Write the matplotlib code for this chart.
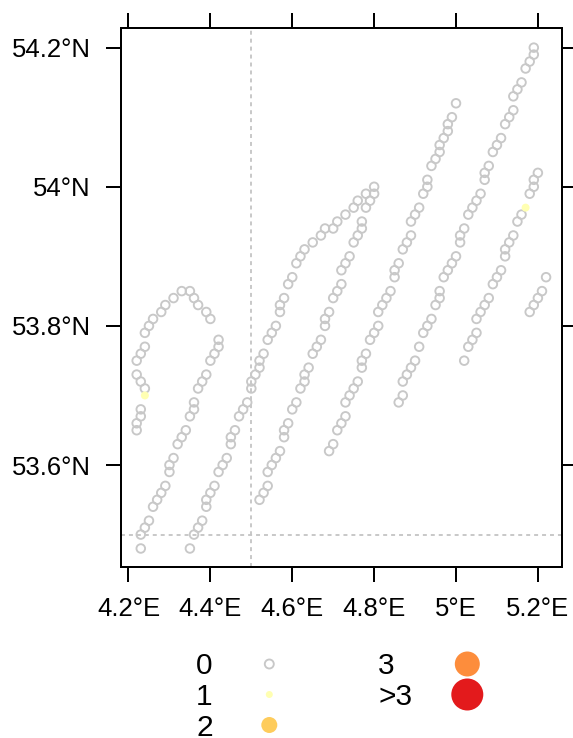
import matplotlib
matplotlib.use("Agg")
import matplotlib.pyplot as plt
from matplotlib.ticker import FixedLocator, MultipleLocator

plt.rcParams['font.family'] = ['Liberation Sans', 'DejaVu Sans']

# survey hauls with zero count, one list pair per track
track_a_lon = [4.22, 4.22, 4.23, 4.23, 4.24, 4.23, 4.22, 4.22, 4.23, 4.24, 4.24, 4.25, 4.26,
               4.28, 4.29, 4.31, 4.33, 4.35, 4.36, 4.37, 4.39, 4.40]
track_a_lat = [53.65, 53.66, 53.67, 53.68, 53.71, 53.72, 53.73, 53.75, 53.76, 53.77, 53.79, 53.80, 53.81,
               53.82, 53.83, 53.84, 53.85, 53.85, 53.84, 53.83, 53.82, 53.81]

track_b_lon = [4.23, 4.23, 4.24, 4.25, 4.26, 4.27, 4.28, 4.29, 4.30, 4.30, 4.31, 4.32, 4.33, 4.34,
               4.35, 4.36, 4.36, 4.37, 4.38, 4.39, 4.40, 4.41, 4.42, 4.42]
track_b_lat = [53.48, 53.50, 53.51, 53.52, 53.54, 53.55, 53.56, 53.57, 53.59, 53.60, 53.61, 53.63, 53.64, 53.65,
               53.67, 53.68, 53.69, 53.71, 53.72, 53.73, 53.75, 53.76, 53.77, 53.78]

track_c_lon = [4.35, 4.36, 4.37, 4.38, 4.39, 4.39, 4.40, 4.41, 4.42, 4.43, 4.44, 4.45, 4.45, 4.46, 4.47,
               4.48, 4.49, 4.50, 4.50, 4.51, 4.52, 4.52, 4.53, 4.54, 4.55, 4.56, 4.57, 4.57, 4.58, 4.59,
               4.60, 4.61, 4.62, 4.63, 4.65, 4.67, 4.68, 4.70, 4.71, 4.73, 4.75, 4.76, 4.78, 4.80]
track_c_lat = [53.48, 53.50, 53.51, 53.52, 53.54, 53.55, 53.56, 53.57, 53.59, 53.60, 53.61, 53.63, 53.64, 53.65, 53.67,
               53.68, 53.69, 53.71, 53.72, 53.73, 53.74, 53.75, 53.76, 53.78, 53.79, 53.80, 53.82, 53.83, 53.84, 53.86,
               53.87, 53.89, 53.90, 53.91, 53.92, 53.93, 53.94, 53.94, 53.95, 53.96, 53.97, 53.98, 53.99, 54.00]

track_d_lon = [4.52, 4.53, 4.54, 4.54, 4.55, 4.56, 4.57, 4.58, 4.58, 4.59, 4.60, 4.61, 4.62, 4.63, 4.63,
               4.64, 4.65, 4.66, 4.67, 4.68, 4.68, 4.69, 4.70, 4.71, 4.72, 4.72, 4.73, 4.74, 4.75, 4.76,
               4.77, 4.77, 4.78, 4.79, 4.80]
track_d_lat = [53.55, 53.56, 53.57, 53.59, 53.60, 53.61, 53.62, 53.64, 53.65, 53.66, 53.68, 53.69, 53.71, 53.72, 53.73,
               53.74, 53.76, 53.77, 53.78, 53.80, 53.81, 53.82, 53.84, 53.85, 53.86, 53.88, 53.89, 53.90, 53.92, 53.93,
               53.94, 53.95, 53.97, 53.98, 53.99]

track_e_lon = [4.69, 4.70, 4.71, 4.72, 4.73, 4.73, 4.74, 4.75, 4.76, 4.77, 4.77, 4.78, 4.79, 4.80, 4.81,
               4.81, 4.82, 4.83, 4.84, 4.85, 4.85, 4.86, 4.87, 4.88, 4.89, 4.89, 4.90, 4.91, 4.92, 4.93,
               4.93, 4.94, 4.95, 4.96, 4.96, 4.97, 4.98, 4.98, 4.99, 5.00]
track_e_lat = [53.62, 53.63, 53.65, 53.66, 53.67, 53.69, 53.70, 53.71, 53.72, 53.74, 53.75, 53.76, 53.78, 53.79, 53.80,
               53.82, 53.83, 53.84, 53.85, 53.87, 53.88, 53.89, 53.91, 53.92, 53.93, 53.95, 53.96, 53.97, 53.99, 54.00,
               54.01, 54.03, 54.04, 54.05, 54.06, 54.07, 54.08, 54.09, 54.10, 54.12]

track_f_lon = [4.86, 4.87, 4.87, 4.88, 4.89, 4.90, 4.91, 4.92, 4.93, 4.94, 4.95, 4.96, 4.96, 4.97, 4.98,
               4.99, 5.00, 5.01, 5.01, 5.02, 5.03, 5.04, 5.05, 5.06, 5.07, 5.07, 5.08, 5.09, 5.10, 5.11,
               5.12, 5.13, 5.14, 5.14, 5.15, 5.16, 5.17, 5.18, 5.19, 5.19]
track_f_lat = [53.69, 53.70, 53.72, 53.73, 53.74, 53.75, 53.77, 53.79, 53.80, 53.81, 53.83, 53.84, 53.85, 53.87, 53.88,
               53.89, 53.90, 53.92, 53.93, 53.94, 53.96, 53.97, 53.98, 53.99, 54.01, 54.02, 54.03, 54.05, 54.06, 54.07,
               54.09, 54.10, 54.11, 54.13, 54.14, 54.15, 54.17, 54.18, 54.19, 54.20]

track_g_lon = [5.02, 5.03, 5.04, 5.05, 5.05, 5.06, 5.07, 5.08, 5.09, 5.10, 5.11, 5.12, 5.12, 5.13, 5.14,
               5.15, 5.16, 5.18, 5.19, 5.19, 5.20]
track_g_lat = [53.75, 53.77, 53.78, 53.79, 53.81, 53.82, 53.83, 53.84, 53.86, 53.87, 53.88, 53.90, 53.91, 53.92, 53.93,
               53.95, 53.96, 53.99, 54.00, 54.01, 54.02]

track_h_lon = [5.18, 5.19, 5.20, 5.21, 5.22]
track_h_lat = [53.82, 53.83, 53.84, 53.85, 53.87]

# hauls with a positive count
catch_lon = [4.24, 5.17]
catch_lat = [53.70, 53.97]
catch_val = [1, 1]

# tick positions and labels
x_ticks = [4.2, 4.4, 4.6, 4.8, 5.0, 5.2]
x_labels = ["4.2°E", "4.4°E", "4.6°E", "4.8°E", "5°E", "5.2°E"]
y_ticks = [53.6, 53.8, 54.0, 54.2]
y_labels = ["53.6°N", "53.8°N", "54°N", "54.2°N"]

# key entries
key_labels = ["0", "1", "2", "3", ">3"]
key_colors = ["none", "#FFFFB2", "#FECC5C", "#FD8D3C", "#E31A1C"]

PX = 0.72  # points per pixel at dpi 100
GREY = "#c8c8c8"

fig = plt.figure(figsize=(5.73, 7.38), dpi=100)
ax = fig.add_axes([121 / 573, 1 - 567 / 738, 441 / 573, 538.7 / 738])

zero_lon = (track_a_lon + track_b_lon + track_c_lon + track_d_lon + track_e_lon
            + track_f_lon + track_g_lon + track_h_lon)
zero_lat = (track_a_lat + track_b_lat + track_c_lat + track_d_lat + track_e_lat
            + track_f_lat + track_g_lat + track_h_lat)

ax.scatter(zero_lon, zero_lat, s=(8.6 * PX) ** 2, facecolors="none",
           edgecolors=GREY, linewidths=1.35, zorder=3)
ax.scatter(catch_lon, catch_lat, s=(8 * PX) ** 2,
           c=[key_colors[v] for v in catch_val], edgecolors="none", zorder=3)

ax.set_xlim(4.1817, 5.2589)
ax.set_ylim(53.4534, 54.2278)

ax.xaxis.set_major_locator(FixedLocator(x_ticks))
ax.set_xticklabels(x_labels)
ax.yaxis.set_major_locator(FixedLocator(y_ticks))
ax.set_yticklabels(y_labels)

# dashed grid every half degree
ax.xaxis.set_minor_locator(MultipleLocator(0.5))
ax.yaxis.set_minor_locator(MultipleLocator(0.5))
ax.grid(which="minor", color="#c4c4c4", linestyle=(0, (2.2, 2.2)), linewidth=1.3, zorder=0)
ax.tick_params(which="minor", length=0)

ax.tick_params(which="major", direction="out", length=15 * PX, width=2 * PX,
               top=True, right=True, labelsize=18.5, colors="black")
ax.tick_params(axis="y", pad=11.0)
ax.tick_params(axis="x", pad=11.0)
for sp in ax.spines.values():
    sp.set_linewidth(2 * PX)

# key below the map, drawn in pixel space
kax = fig.add_axes([0, 0, 1, 1], facecolor="none")
kax.set_xlim(0, 573)
kax.set_ylim(738, 0)
kax.axis("off")
key_sizes = [9, 7, 16, 25, 32]
text_x = [196, 378]
marker_x = [269.3, 467.3]
for i, lab in enumerate(key_labels):
    col, row = i // 3, i % 3
    y = 664 + 30.5 * row
    kax.text(text_x[col], y + 10.5, lab, fontsize=21.5, ha="left", va="baseline")
    if key_colors[i] == "none":
        kax.scatter([marker_x[col]], [y], s=(key_sizes[i] * PX) ** 2, facecolors="none",
                    edgecolors=GREY, linewidths=1.35)
    else:
        kax.scatter([marker_x[col]], [y], s=(key_sizes[i] * PX) ** 2, c=key_colors[i],
                    edgecolors="none")

fig.savefig("out.png", dpi=100)
